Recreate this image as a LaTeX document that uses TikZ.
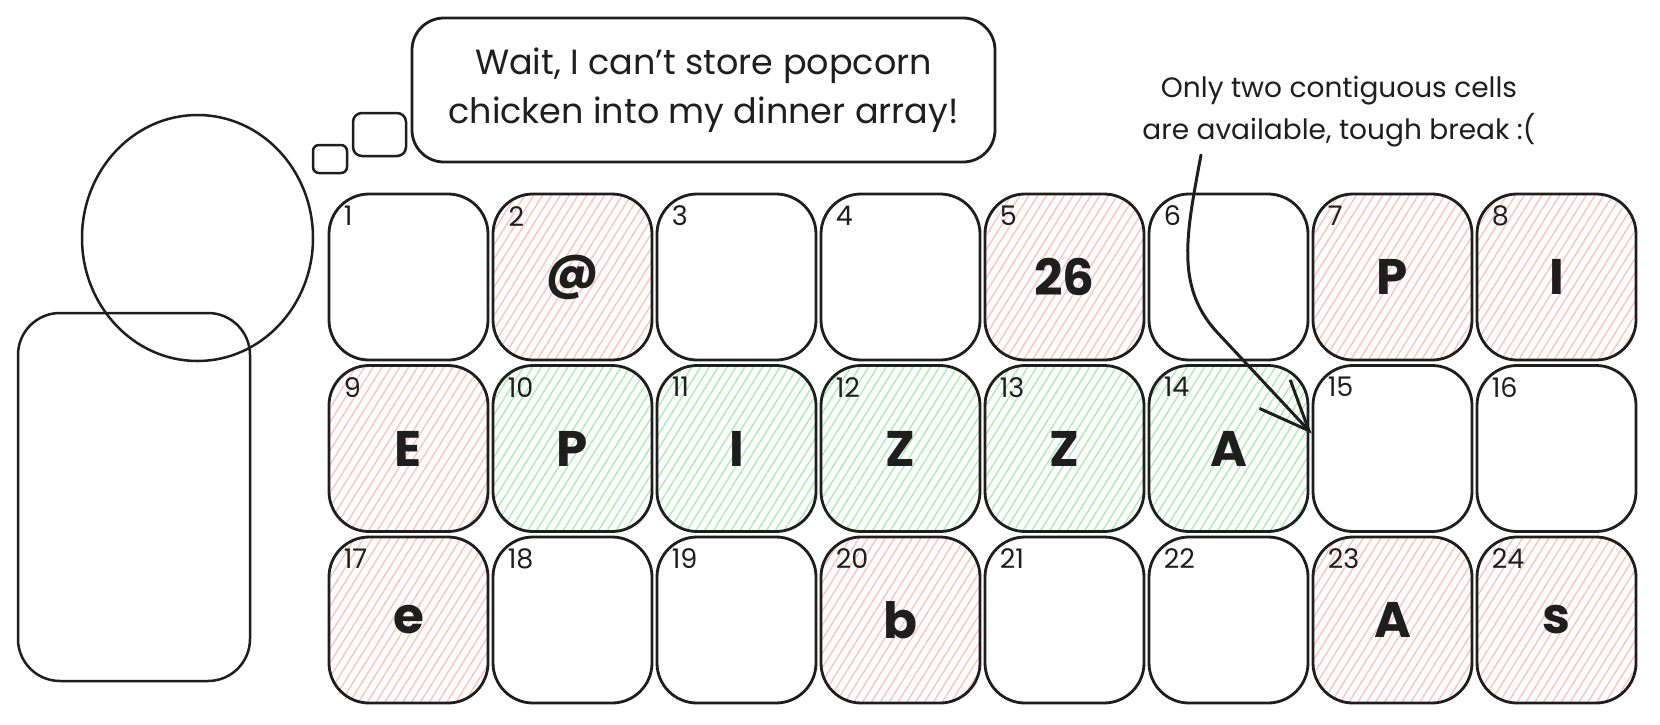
\documentclass[tikz,border=0pt]{standalone}
\usepackage{fontspec}
\setmainfont{Poppins}
\usetikzlibrary{positioning, arrows.meta, patterns.meta, shapes.geometric}
\definecolor{ink}{HTML}{1E1E1E}
\definecolor{hatchred}{HTML}{FFC2C2}
\definecolor{hatchgreen}{HTML}{A9EEB3}

\begin{document}
\begin{tikzpicture}
    [
        x=1pt, y=-1pt,
        on grid,
        node distance=171.5pt and 164pt,
        outline/.style={draw=ink, line width=2.8pt, inner sep=0pt},
        cell/.style={outline, rectangle, rounded corners=40pt, minimum width=159pt, minimum height=166pt, text=ink, font=\fontsize{50}{50}\selectfont\bfseries},
        taken/.style={cell, pattern={Lines[angle=58, distance=7.5pt, line width=1.4pt]}, pattern color=hatchred},
        word/.style={cell, pattern={Lines[angle=58, distance=7.5pt, line width=1.4pt]}, pattern color=hatchgreen},
        idx/.style={anchor=north west, inner sep=0pt, xshift=16pt, yshift=-13pt, text=ink, font=\fontsize{27}{27}\selectfont},
        puff/.style={outline, rectangle, line width=2.5pt},
        bubble/.style={outline, rectangle, rounded corners=32pt, minimum width=583pt, minimum height=144pt, align=center, text=ink, font=\fontsize{35}{49}\selectfont},
        note/.style={align=center, inner sep=0pt, text=ink, font=\fontsize{28}{42}\selectfont},
        pointer/.style={draw=ink, line width=3pt, line cap=round, -{Straight Barb[length=50pt, width=42pt, line width=3pt]}}
    ]
        \useasboundingbox [fill=white] (0, 0) rectangle (1660, 724);
        % =========================================================================
        % FIGURE
        % =========================================================================
        \node [outline, ellipse, line width=2.5pt, minimum width=231pt, minimum height=246pt] (head) at (197.5, 238) {};
        \node [outline, rectangle, line width=2.5pt, rounded corners=42pt, minimum width=232pt, minimum height=368pt] (torso) at (134, 497) {};
        % --- thought ---
        \node [puff, rounded corners=6pt, minimum width=34pt, minimum height=28pt] (puff1) at (330, 159) {};
        \node [puff, rounded corners=9pt, minimum width=53pt, minimum height=43pt] (puff2) at (379.5, 134.5) {};
        \node [bubble] (thought) at (703.5, 90) {Wait, I can't store popcorn\\chicken into my dinner array!};

        % =========================================================================
        % MEMORY CELLS
        % =========================================================================
        % --- Row 1 ---
        \node [cell, label={[idx, name=n1]north west:1}] (c1) at (408.5, 277) {};
        \node [taken, right=of c1, label={[idx, name=n2]north west:2}] (c2) {@};
        \node [cell, right=of c2, label={[idx, name=n3]north west:3}] (c3) {};
        \node [cell, right=of c3, label={[idx, name=n4]north west:4}] (c4) {};
        \node [taken, right=of c4, label={[idx, name=n5]north west:5}] (c5) {26};
        \node [cell, right=of c5, label={[idx, name=n6]north west:6}] (c6) {};
        \node [taken, right=of c6, label={[idx, name=n7]north west:7}] (c7) {P};
        \node [taken, right=of c7, label={[idx, name=n8]north west:8}] (c8) {I};
        % --- Row 2 ---
        \node [taken, below=of c1, label={[idx, name=n9]north west:9}] (c9) {E};
        \node [word, right=of c9, label={[idx, name=n10]north west:10}] (c10) {P};
        \node [word, right=of c10, label={[idx, name=n11]north west:11}] (c11) {I};
        \node [word, right=of c11, label={[idx, name=n12]north west:12}] (c12) {Z};
        \node [word, right=of c12, label={[idx, name=n13]north west:13}] (c13) {Z};
        \node [word, right=of c13, label={[idx, name=n14]north west:14}] (c14) {A};
        \node [cell, right=of c14, label={[idx, name=n15]north west:15}] (c15) {};
        \node [cell, right=of c15, label={[idx, name=n16]north west:16}] (c16) {};
        % --- Row 3 ---
        \node [taken, below=of c9, label={[idx, name=n17]north west:17}] (c17) {e};
        \node [cell, right=of c17, label={[idx, name=n18]north west:18}] (c18) {};
        \node [cell, right=of c18, label={[idx, name=n19]north west:19}] (c19) {};
        \node [taken, right=of c19, label={[idx, name=n20]north west:20}] (c20) {b};
        \node [cell, right=of c20, label={[idx, name=n21]north west:21}] (c21) {};
        \node [cell, right=of c21, label={[idx, name=n22]north west:22}] (c22) {};
        \node [taken, right=of c22, label={[idx, name=n23]north west:23}] (c23) {A};
        \node [taken, right=of c23, label={[idx, name=n24]north west:24}] (c24) {s};

        % =========================================================================
        % REMARK
        % =========================================================================
        \node [note] (remark) at (1339, 112) {Only two contiguous cells\\are available, tough break :(};
        \coordinate (from) at (1201, 155);
        \coordinate (bend) at (1215, 330);
        \coordinate (tip) at ([yshift=15pt]c15.west);
        \draw [pointer] (from) .. controls +(-15, 80) and +(-39, -45) .. (bend) -- (tip);
    \end{tikzpicture}
\end{document}
